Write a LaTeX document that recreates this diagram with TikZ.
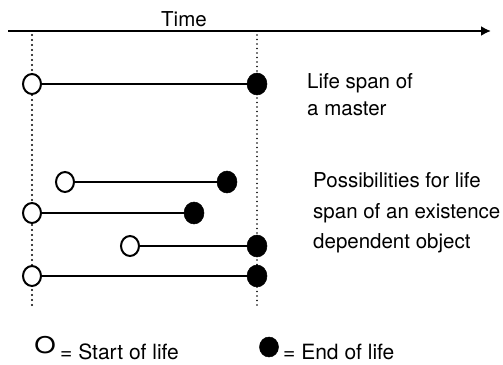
\documentclass[tikz,border=0pt]{standalone}
\usepackage{fontspec}
\setmainfont{TeX Gyre Heros}
\usetikzlibrary{arrows.meta,shapes.geometric}
\begin{document}
\begin{tikzpicture}[x=1pt,y=-1pt,
  startpt/.style={draw,fill=white,line width=2pt,ellipse,minimum width=18pt,minimum height=20pt,inner sep=0pt},
  endpt/.style={draw,fill=black,line width=0.5pt,ellipse,minimum width=20pt,minimum height=22pt,inner sep=0pt},
  span/.style={line width=1.8pt},
  guide/.style={line width=2.4pt,line cap=round,dash pattern=on 0pt off 5pt},
  guidethin/.style={line width=1.6pt,line cap=round,dash pattern=on 0pt off 4.5pt},
  label/.style={font=\fontsize{20.5}{24}\selectfont,anchor=base west,inner sep=0pt},
  legend/.style={font=\fontsize{21}{24}\selectfont,anchor=base west,inner sep=0pt}]
\useasboundingbox (0,0) rectangle (503,364);

% time axis
\coordinate (ax0) at (8,31);
\coordinate (ax1) at (491,31);
\draw[line width=1.9pt,-{Latex[length=10pt,width=10pt]}] (ax0) -- (ax1);
\node[label] (time) at (161,26) {Time};

% master's birth and death moments
\coordinate (gl0) at (32,35);
\coordinate (gl1) at (32,309);
\coordinate (gr0) at (257,35);
\coordinate (gr1) at (257,309);
\draw[guide] (gl0) -- (gl1);
\draw[guidethin] (gr0) -- (gr1);

% life span of the master
\node[startpt] (s1) at (32,84) {};
\node[endpt] (e1) at (257,84) {};
\draw[span] (s1) -- (e1);

% possible life spans of a dependent object
\node[startpt] (s2) at (65,182) {};
\node[endpt] (e2) at (227,182) {};
\draw[span] (s2) -- (e2);
\node[startpt] (s3) at (32,213) {};
\node[endpt] (e3) at (194,213) {};
\draw[span] (s3) -- (e3);
\node[startpt] (s4) at (130,246) {};
\node[endpt] (e4) at (257,246) {};
\draw[span] (s4) -- (e4);
\node[startpt] (s5) at (32,276) {};
\node[endpt] (e5) at (257,276) {};
\draw[span] (s5) -- (e5);

% descriptions
\node[label] (m1) at (307,88) {Life span of};
\node[label] (m2) at (307,115) {a master};
\node[label] (d1) at (313,187) {Possibilities for life};
\node[label] (d2) at (313,218) {span of an existence};
\node[label] (d3) at (313,248) {dependent object};

% legend
\node[font=\fontsize{23}{25}\selectfont,anchor=base,inner sep=0pt] (lo) at (45,353) {\scalebox{1.2}[1]{O}};
\node[legend] (lt1) at (60,359.5) {= Start of life};
\node[endpt,minimum width=19pt,minimum height=20pt] (lf) at (269,347) {};
\node[legend] (lt2) at (283,359.5) {= End of life};
\end{tikzpicture}
\end{document}
